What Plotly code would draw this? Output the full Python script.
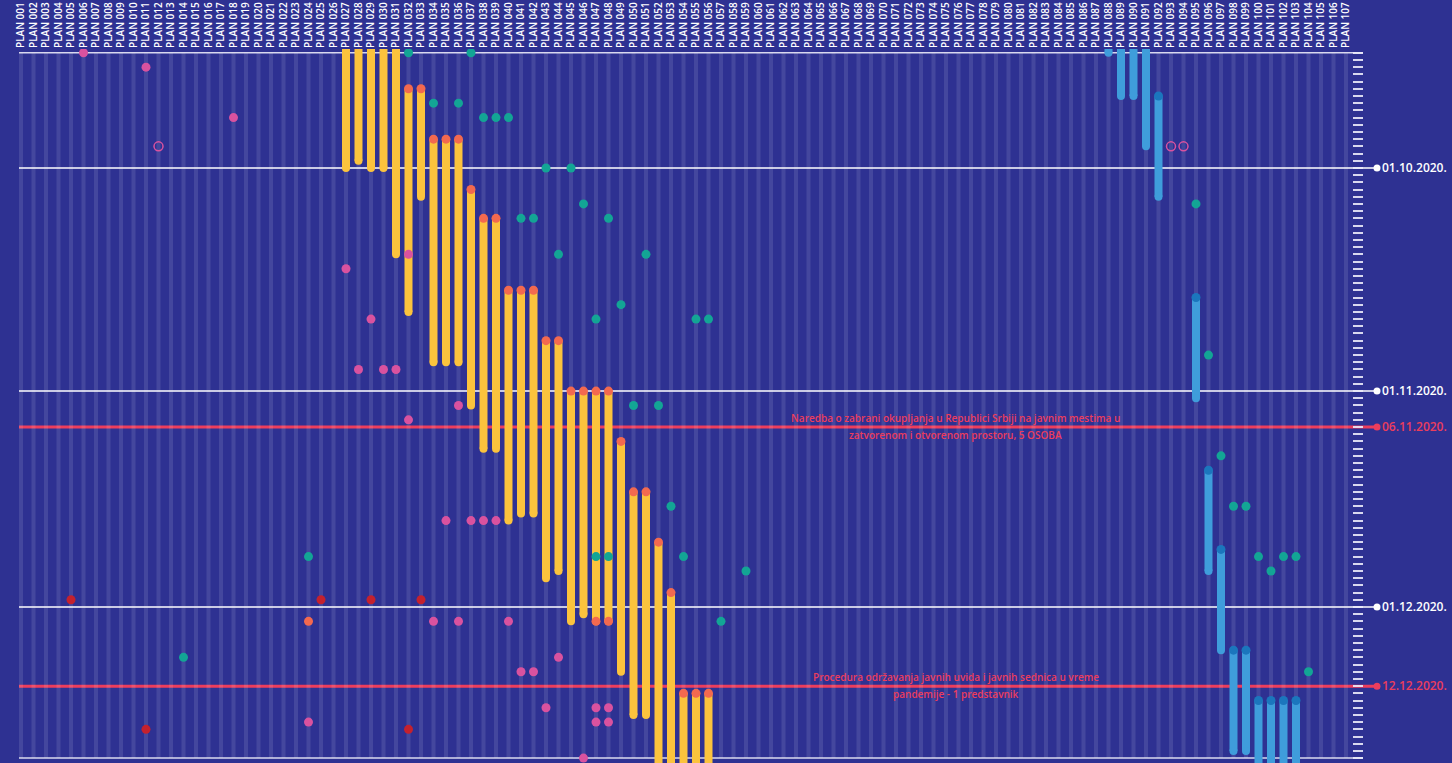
import plotly.graph_objects as go

# ---------------- data ----------------
plan_numbers = list(range(1, 108))
plans = [f"PLAN {n:03d}" for n in plan_numbers]

# yellow plans (interval bars)
yellow_plan = [27, 28, 29, 30, 31, 32, 33, 34, 35, 36, 37, 38, 39, 40, 41,
               42, 43, 44, 45, 46, 47, 48, 49, 50, 51, 52, 53, 54, 55, 56]
yellow_start = ['2020-09-01', '2020-09-01', '2020-09-01', '2020-09-01', '2020-09-01',
                '2020-09-20', '2020-09-20', '2020-09-27', '2020-09-27', '2020-09-27',
                '2020-10-04', '2020-10-08', '2020-10-08', '2020-10-18', '2020-10-18',
                '2020-10-18', '2020-10-25', '2020-10-25', '2020-11-01', '2020-11-01',
                '2020-11-01', '2020-11-01', '2020-11-08', '2020-11-15', '2020-11-15',
                '2020-11-22', '2020-11-29', '2020-12-13', '2020-12-13', '2020-12-13']
yellow_end = ['2020-10-01', '2020-09-30', '2020-10-01', '2020-10-01', '2020-10-13',
              '2020-10-21', '2020-10-05', '2020-10-28', '2020-10-28', '2020-10-28',
              '2020-11-03', '2020-11-09', '2020-11-09', '2020-11-19', '2020-11-18',
              '2020-11-18', '2020-11-27', '2020-11-26', '2020-12-03', '2020-12-02',
              '2020-12-03', '2020-12-03', '2020-12-10', '2020-12-16', '2020-12-16',
              '2021-01-15', '2021-01-15', '2021-01-15', '2021-01-15', '2021-01-15']
yellow_end_dot_plan = [47, 48]
yellow_end_dot_date = ['2020-12-03', '2020-12-03']

# blue plans (interval bars)
blue_plan = [88, 89, 90, 91, 92, 95, 96, 97, 98, 99, 100, 101, 102, 103]
blue_start = ['2020-09-01', '2020-09-01', '2020-09-01', '2020-09-01', '2020-09-21',
              '2020-10-19', '2020-11-12', '2020-11-23', '2020-12-07', '2020-12-07',
              '2020-12-14', '2020-12-14', '2020-12-14', '2020-12-14']
blue_end = ['2020-09-15', '2020-09-21', '2020-09-21', '2020-09-28', '2020-10-05',
            '2020-11-02', '2020-11-26', '2020-12-07', '2020-12-21', '2020-12-21',
            '2021-01-15', '2021-01-15', '2021-01-15', '2021-01-15']

# single events
pink_plan = [6, 11, 18, 27, 29, 28, 30, 31, 32, 32, 36, 35, 37, 38, 39, 34, 36, 40,
             24, 41, 42, 44, 43, 47, 48, 47, 48, 46]
pink_date = ['2020-09-15', '2020-09-17', '2020-09-24', '2020-10-15', '2020-10-22',
             '2020-10-29', '2020-10-29', '2020-10-29', '2020-10-13', '2020-11-05',
             '2020-11-03', '2020-11-19', '2020-11-19', '2020-11-19', '2020-11-19',
             '2020-12-03', '2020-12-03', '2020-12-03', '2020-12-17', '2020-12-10',
             '2020-12-10', '2020-12-08', '2020-12-15', '2020-12-15', '2020-12-15',
             '2020-12-17', '2020-12-17', '2020-12-22']
hollow_plan = [12, 93, 94]
hollow_date = ['2020-09-28', '2020-09-28', '2020-09-28']
teal_plan = [32, 37, 34, 36, 38, 39, 40, 43, 45, 46, 48, 41, 42, 44, 51, 49, 47, 55,
             56, 50, 52, 53, 47, 48, 54, 59, 57, 24, 14, 95, 96, 97, 98, 99, 100,
             101, 102, 103, 104]
teal_date = ['2020-09-15', '2020-09-15', '2020-09-22', '2020-09-22', '2020-09-24',
             '2020-09-24', '2020-09-24', '2020-10-01', '2020-10-01', '2020-10-06',
             '2020-10-08', '2020-10-08', '2020-10-08', '2020-10-13', '2020-10-13',
             '2020-10-20', '2020-10-22', '2020-10-22', '2020-10-22', '2020-11-03',
             '2020-11-03', '2020-11-17', '2020-11-24', '2020-11-24', '2020-11-24',
             '2020-11-26', '2020-12-03', '2020-11-24', '2020-12-08', '2020-10-06',
             '2020-10-27', '2020-11-10', '2020-11-17', '2020-11-17', '2020-11-24',
             '2020-11-26', '2020-11-24', '2020-11-24', '2020-12-10']
red_plan = [5, 25, 29, 33, 11, 32]
red_date = ['2020-11-30', '2020-11-30', '2020-11-30', '2020-11-30', '2020-12-18', '2020-12-18']
orange_plan = [24]
orange_date = ['2020-12-03']

# time frame and reference dates
frame_dates = ['2020-09-15', '2020-12-22']
month_dates = ['2020-10-01', '2020-11-01', '2020-12-01']
month_labels = ['01.10.2020.', '01.11.2020.', '01.12.2020.']
event_dates = ['2020-11-06', '2020-12-12']
event_labels = ['06.11.2020.', '12.12.2020.']
event_texts = [
    ['Naredba o zabrani okupljanja u Republici Srbiji na javnim mestima u',
     'zatvorenom i otvorenom prostoru, 5 OSOBA'],
    ['Procedura održavanja javnih uvida i javnih sednica u vreme',
     'pandemije - 1 predstavnik'],
]

# ---------------- style ----------------
BG = '#2e3192'
STRIPE = 'rgba(255,255,255,0.11)'
YELLOW = '#fbc33d'
ORANGE = '#f3694f'
BLUE = '#3f9ddb'
DARK_BLUE = '#1b76bd'
TEAL = '#13a595'
PINK = '#d9529f'
RED = '#c4212e'
EVENT_RED = '#ec3d5c'
FONT = 'Open Sans'


def P(n):
    return f"PLAN {n:03d}"


def segments(nums, starts, ends):
    xs, ys = [], []
    for n, s, e in zip(nums, starts, ends):
        xs += [P(n), P(n), None]
        ys += [s, e, None]
    return xs, ys


fig = go.Figure()

# interval bars
for nums, st, en, col, dotcol in [(yellow_plan, yellow_start, yellow_end, YELLOW, ORANGE),
                                   (blue_plan, blue_start, blue_end, BLUE, DARK_BLUE)]:
    xs, ys = segments(nums, st, en)
    fig.add_trace(go.Scatter(x=xs, y=ys, mode='lines', line=dict(color=col, width=8),
                             hoverinfo='skip'))
    fig.add_trace(go.Scatter(x=[P(n) for n in nums], y=en, mode='markers',
                             marker=dict(color=col, size=8, line=dict(width=0))))
    fig.add_trace(go.Scatter(x=[P(n) for n in nums], y=st, mode='markers',
                             marker=dict(color=dotcol, size=9, line=dict(width=0))))

fig.add_trace(go.Scatter(x=[P(n) for n in yellow_end_dot_plan], y=yellow_end_dot_date,
                         mode='markers', marker=dict(color=ORANGE, size=9, line=dict(width=0))))

# single events
for nums, dates, col in [(pink_plan, pink_date, PINK), (teal_plan, teal_date, TEAL),
                         (red_plan, red_date, RED), (orange_plan, orange_date, ORANGE)]:
    fig.add_trace(go.Scatter(x=[P(n) for n in nums], y=dates, mode='markers',
                             marker=dict(color=col, size=9, line=dict(width=0))))
fig.add_trace(go.Scatter(x=[P(n) for n in hollow_plan], y=hollow_date, mode='markers',
                         marker=dict(color='rgba(0,0,0,0)', size=9,
                                     line=dict(width=1.5, color=PINK))))

shapes = []
# column stripes
for i in range(len(plans)):
    shapes.append(dict(type='rect', xref='x', yref='y', x0=i - 0.16, x1=i + 0.16,
                       y0=frame_dates[0], y1=frame_dates[1], fillcolor=STRIPE,
                       line=dict(width=0), layer='below'))
# frame lines
for d in frame_dates:
    shapes.append(dict(type='line', xref='paper', yref='y', x0=0, x1=1, y0=d, y1=d,
                       line=dict(color='rgba(235,235,250,0.9)', width=1.5), layer='between'))
# month lines + dots
for d in month_dates:
    shapes.append(dict(type='line', xref='paper', yref='y', x0=0, x1=1.0104, y0=d, y1=d,
                       line=dict(color='white', width=1.5), layer='between'))
    shapes.append(dict(type='circle', xref='paper', yref='y', xsizemode='pixel',
                       ysizemode='pixel', xanchor=1, yanchor=d, x0=10.5, x1=17.5,
                       y0=-3.5, y1=3.5, fillcolor='white', line=dict(width=0),
                       layer='above'))
# event lines + dots
for d in event_dates:
    shapes.append(dict(type='line', xref='paper', yref='y', x0=0, x1=1.0104, y0=d, y1=d,
                       line=dict(color=EVENT_RED, width=3), layer='between'))
    shapes.append(dict(type='circle', xref='paper', yref='y', xsizemode='pixel',
                       ysizemode='pixel', xanchor=1, yanchor=d, x0=10.5, x1=17.5,
                       y0=-3.5, y1=3.5, fillcolor=EVENT_RED, line=dict(width=0),
                       layer='above'))

annotations = []
for d, lines in zip(event_dates, event_texts):
    for txt, shift in zip(lines, [9, -8]):
        annotations.append(dict(xref='paper', yref='y', x=0.697, y=d, text=txt,
                                showarrow=False, xanchor='center', yanchor='middle',
                                yshift=shift,
                                font=dict(family=FONT, size=10, color=EVENT_RED,
                                          weight=600)))

tickvals = month_dates + event_dates
ticktext = month_labels + [f'<span style="color:{EVENT_RED}">{t}</span>' for t in event_labels]

fig.update_layout(
    width=1452, height=763,
    margin=dict(l=19, r=89, t=49, b=0, pad=0, autoexpand=False),
    paper_bgcolor=BG, plot_bgcolor=BG,
    showlegend=False,
    shapes=shapes, annotations=annotations,
    font=dict(family=FONT, color='white'),
    xaxis=dict(type='category', categoryorder='array', categoryarray=plans,
               tickmode='array', tickvals=plans, ticktext=plans, automargin=False,
               range=[-0.16, 107.36], side='top', tickangle=-90, ticks='',
               showgrid=False, zeroline=False, showline=False,
               tickfont=dict(family=FONT, size=10, color='white', weight=600)),
    yaxis=dict(type='date', range=['2020-12-22 16:20', '2020-09-14 11:20'],
               side='right', tickmode='array', tickvals=tickvals, ticktext=ticktext,
               ticks='', showgrid=False, zeroline=False, showline=False,
               automargin=False, ticklabelstandoff=18,
               tickfont=dict(family=FONT, size=12, color='white', weight=600),
               minor=dict(ticks='inside', ticklen=10, tickwidth=1.5,
                          tickcolor='rgba(235,235,250,0.9)', dtick=86400000,
                          tick0='2020-09-15', showgrid=False)),
)

fig.write_html(
    "out.html",
    config={'displayModeBar': False},
    post_script=("document.body.style.margin='0';"
                 "document.body.style.background='" + BG + "';"
                 "document.body.style.overflow='hidden';"),
)
